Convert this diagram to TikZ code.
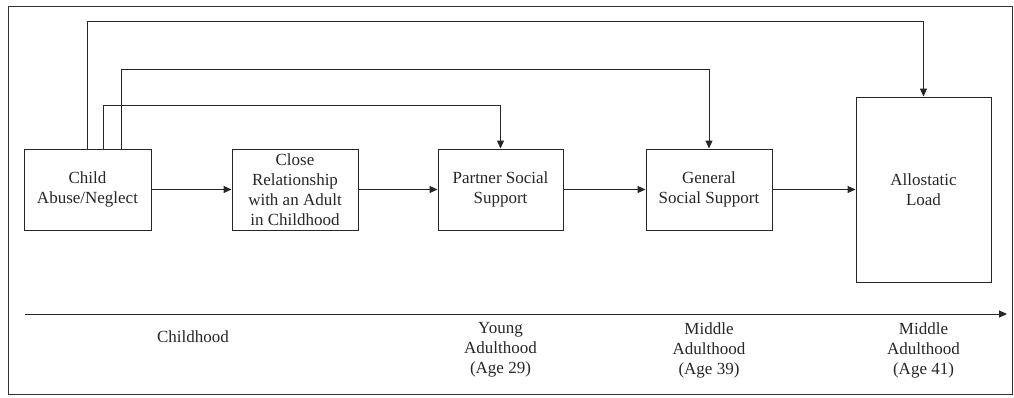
\documentclass[tikz,border=0pt]{standalone}
\usepackage{fontspec}
\setmainfont{Liberation Serif}
\usetikzlibrary{arrows.meta}
\begin{document}
\begin{tikzpicture}[x=1pt,y=-1pt,
  box/.style={draw=black!85,line width=1pt,minimum height=81pt,inner sep=0pt,align=center,font=\fontsize{17}{20}\selectfont,text=black!85},
  lbl/.style={align=center,inner sep=0pt,font=\fontsize{17}{20}\selectfont,text=black!85},
  arr/.style={draw=black!85,line width=1pt,-{Triangle[length=8pt,width=7pt]}}]
\useasboundingbox (0,0) rectangle (1014,397);
\draw[draw=black!80,line width=1pt] (8,6) rectangle (1012,394);
\node[box,minimum width=127pt] (child) at (87.5,189.5) {Child\\Abuse/Neglect};
\node[box,minimum width=126pt] (close) at (295,189.5) {Close\\Relationship\\with an Adult\\in Childhood};
\node[box,minimum width=125pt] (part) at (500.5,189.5) {Partner Social\\Support};
\node[box,minimum width=126pt] (gen) at (709,189.5) {General\\Social Support};
\node[box,minimum width=135pt,minimum height=185pt] (allo) at (923.5,189.5) {Allostatic\\Load};
\draw[arr] (child) -- (close);
\draw[arr] (close) -- (part);
\draw[arr] (part) -- (gen);
\draw[arr] (gen) -- (allo);
\draw[arr] ([xshift=-0.5pt]child.north) -- ++(0,-127) -| (allo.north);
\draw[arr] ([xshift=33.5pt]child.north) -- ++(0,-79) -| (gen.north);
\draw[arr] ([xshift=15.5pt]child.north) -- ++(0,-43) -| (part.north);
\coordinate (t0) at (25,314);
\coordinate (t1) at (1007,314);
\draw[arr] (t0) -- (t1);
\node[lbl] (l1) at (193,337) {Childhood};
\node[lbl] (l2) at (500.5,350) {Young\\Adulthood\\(Age 29)};
\node[lbl] (l3) at (709,350) {Middle\\Adulthood\\(Age 39)};
\node[lbl] (l4) at (923.5,350) {Middle\\Adulthood\\(Age 41)};
\end{tikzpicture}
\end{document}
